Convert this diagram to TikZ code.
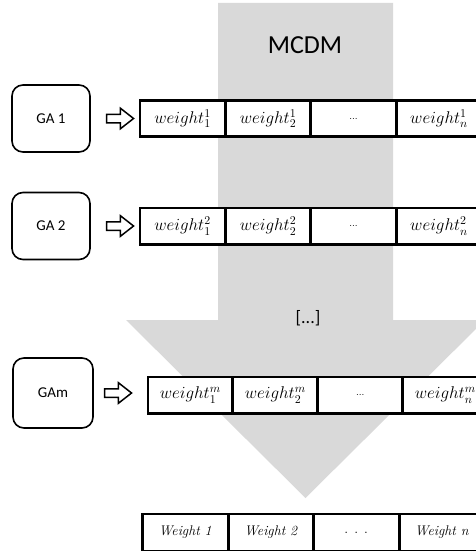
\RequirePackage{fix-cm}
\documentclass[tikz,border=0pt]{standalone}
\usepackage{fontspec}
\setsansfont{Carlito}
\usetikzlibrary{positioning,shapes.arrows,calc}
\definecolor{mcdmgray}{RGB}{217,217,217}

\begin{document}
\begin{tikzpicture}[x=1pt, y=-1pt,
    ga/.style={rectangle, draw, line width=1.6pt, rounded corners=11pt, minimum width=78pt, minimum height=67pt, font=\sffamily\fontsize{15}{17}\selectfont},
    cell/.style={rectangle, draw, fill=white, line width=1.5pt, minimum width=84pt, minimum height=35pt, inner sep=0pt, font=\fontsize{17}{19}\selectfont},
    feed/.style={single arrow, draw, line width=1.5pt, fill=white, minimum height=27pt, minimum width=0pt, inner xsep=0pt, inner ysep=3.5pt, single arrow head extend=6pt, single arrow tip angle=76},
    frame/.style={line width=2.5pt}
]
    \useasboundingbox (0,0) rectangle (475,551);

    % MCDM arrow behind everything
    \fill[mcdmgray] (218,3) -- (393,3) -- (393,320) -- (485,320) -- (305.5,498) -- (126,320) -- (218,320) -- cycle;
    \node[font=\sffamily\fontsize{26}{30}\selectfont] (mcdm) at (305,45) {MCDM};
    \node[font=\sffamily\fontsize{18}{20}\selectfont] (more) at (308,318) {[...]};

    % GA 1
    \node[ga] (ga1) at (51,118.5) {GA 1};
    \node[feed, right=15pt of ga1] (f1) {};
    \node[cell, right=5pt of f1] (w11) {$weight_1^1$};
    \node[cell, right=0pt of w11] (w12) {$weight_2^1$};
    \node[cell, right=0pt of w12] (w13) {\fontsize{10}{12}\selectfont ...};
    \node[cell, right=0pt of w13] (w14) {$weight_n^1$};
    \draw[frame] (w11.north west) rectangle (w14.south east);

    % GA 2
    \node[ga] (ga2) at (51,226) {GA 2};
    \node[feed, right=15pt of ga2] (f2) {};
    \node[cell, right=5pt of f2] (w21) {$weight_1^2$};
    \node[cell, right=0pt of w21] (w22) {$weight_2^2$};
    \node[cell, right=0pt of w22] (w23) {\fontsize{10}{12}\selectfont ...};
    \node[cell, right=0pt of w23] (w24) {$weight_n^2$};
    \draw[frame] (w21.north west) rectangle (w24.south east);

    % GA m
    \node[ga, minimum width=80pt, minimum height=70pt] (gam) at (53,393) {GAm};
    \node[feed, right=10pt of gam] (fm) {};
    \node[cell, minimum width=83.5pt, right=15pt of fm, yshift=-2pt] (wm1) {$weight_1^m$};
    \node[cell, minimum width=83.5pt, right=0pt of wm1] (wm2) {$weight_2^m$};
    \node[cell, minimum width=83.5pt, right=0pt of wm2] (wm3) {\fontsize{10}{12}\selectfont ...};
    \node[cell, minimum width=83.5pt, right=0pt of wm3] (wm4) {$weight_n^m$};
    \draw[frame] (wm1.north west) rectangle (wm4.south east);

    % Result
    \node[cell, minimum height=36pt, anchor=west, font=\itshape\fontsize{14}{16}\selectfont] (r1) at (142.5,532.5) {Weight 1};
    \node[cell, minimum height=36pt, right=0pt of r1, font=\itshape\fontsize{14}{16}\selectfont] (r2) {Weight 2};
    \node[cell, minimum height=36pt, right=0pt of r2, font=\fontsize{14}{16}\selectfont] (r3) {. . .};
    \node[cell, minimum height=36pt, right=0pt of r3, font=\itshape\fontsize{14}{16}\selectfont] (r4) {Weight n};
    \draw[frame] (r1.north west) rectangle (r4.south east);
\end{tikzpicture}
\end{document}
